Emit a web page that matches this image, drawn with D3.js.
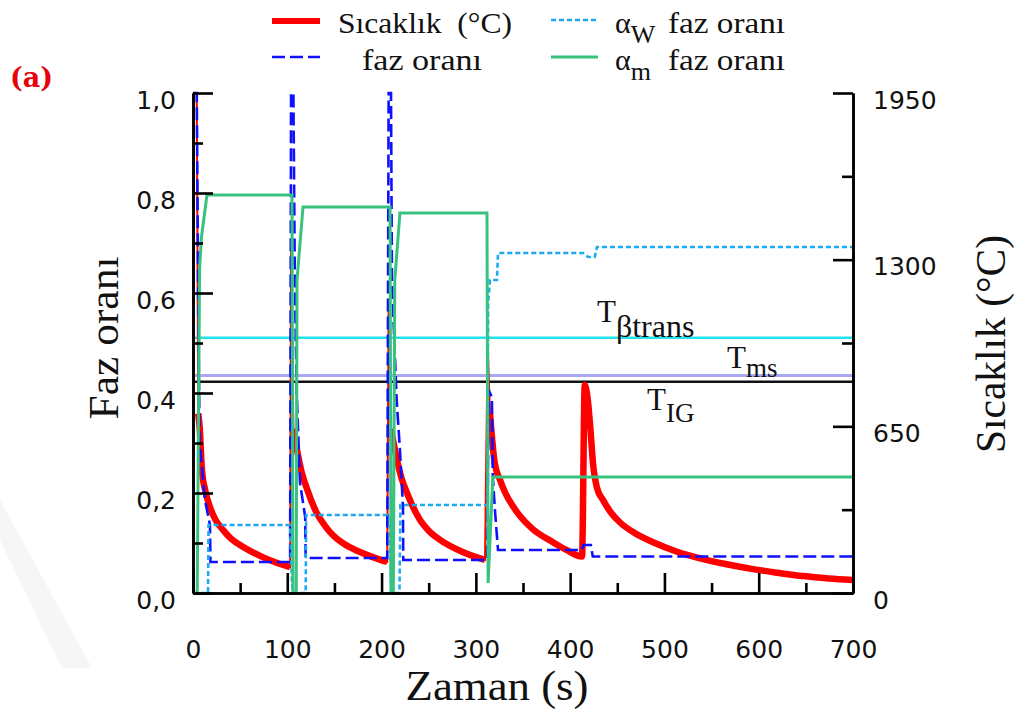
<!DOCTYPE html>
<html><head><meta charset="utf-8">
<script src="https://cdn.jsdelivr.net/npm/d3@7"></script>
<style>body{margin:0;background:#fff}</style>
</head><body>
<svg id="c" width="1020" height="720"></svg>
<script>
// ---------- data ----------
const redTime = [0, 1, 4, 5.5, 7, 9.5, 13, 18, 24, 31.8, 40, 49.8, 60, 74, 88, 103,
  104, 106.5, 110.3, 115, 121, 131.5, 140, 148.5, 160, 174, 190, 206,
  207.5, 210, 216.4, 221, 227, 240.8, 250, 262, 286, 298, 309.7,
  312.5, 315, 320, 325.6, 331, 339.4, 346.8, 360, 381.8, 396, 412.6,
  415.5, 418.5, 421.5, 424.2, 428.5, 434.8, 443, 452.9, 468, 488, 512, 541, 566, 594, 620, 647, 674, 700];
const redTemp = [25, 1950, 1950, 700, 650, 480, 400, 335, 285, 246, 213, 187, 165, 140, 119, 101,
  1338, 640, 558, 475, 405, 310, 262, 225, 192, 165, 141, 121,
  1143, 640, 519, 450, 390, 285, 243, 207, 160, 143, 129,
  967, 700, 507, 441, 392, 338, 300, 250, 198, 168, 142,
  811, 760, 640, 507, 410, 363, 315, 275, 235, 198, 163, 132, 112, 93, 79, 66, 57, 51];

const betaTime = [0, 4, 5.5, 7, 12.7, 18, 18.5, 103,
  104, 106.5, 108, 110, 113.5, 119, 119.5, 206,
  207.5, 210, 211, 216, 219.5, 222.7, 223, 312,
  313.5, 317, 318, 320, 323.5, 412.6,
  414, 422, 424, 700];
const betaVal = [1.0, 1.0, 0.6, 0.3, 0.186, 0.136, 0.062, 0.062,
  1.0, 1.0, 0.626, 0.4, 0.22, 0.152, 0.07, 0.07,
  1.0, 1.0, 0.626, 0.386, 0.286, 0.172, 0.066, 0.066,
  0.406, 0.392, 0.232, 0.172, 0.086, 0.086,
  0.096, 0.096, 0.073, 0.073];

const awTime = [0, 15.9, 16.5, 103, 105, 106, 119.5, 120, 208.5, 210, 211, 219, 220, 312.5,
  313, 315, 322.4, 323.5, 413.6, 419, 426, 428.5, 700];
const awVal = [0, 0, 0.136, 0.136, 0.02, 0, 0, 0.156, 0.156, 0.01, 0, 0, 0.176, 0.176,
  0.58, 0.626, 0.626, 0.68, 0.68, 0.672, 0.672, 0.692, 0.692];

const amTime = [0, 4.5, 7, 9, 14.8, 105, 106, 109.5, 110.3, 116.7, 209, 210, 212.5, 214, 219.5,
  311.8, 313, 318, 700];
const amVal = [0, 0, 0.65, 0.712, 0.796, 0.796, 0, 0, 0.626, 0.772, 0.772, 0, 0, 0.626, 0.76,
  0.76, 0.02, 0.232, 0.232];

const refTemps = [995, 848, 824];           // Tβtrans, Tms, TIG
const xTicks = [0, 100, 200, 300, 400, 500, 600, 700];
const xMinor = [50, 150, 250, 350, 450, 550, 650];
const yTicks = [0, 0.2, 0.4, 0.6, 0.8, 1.0];
const yMinor = [0.1, 0.3, 0.5, 0.7, 0.9];
const rTicks = [0, 650, 1300, 1950];
const rMinor = [325, 975, 1625];

// ---------- setup ----------
const svg = d3.select("#c");
const L = 193, R = 853, T = 93, B = 593;
const x = d3.scaleLinear([0, 700], [L, R]);
const yL = d3.scaleLinear([0, 1], [B, T]);
const yR = d3.scaleLinear([0, 1950], [B, T]);

// faint watermark
svg.append("polygon").attr("points", "0,500 0,540 62,668 92,668").attr("fill", "#f6f6f6");

const serif = "'Liberation Serif', 'Times New Roman', serif";
const sans = "'DejaVu Sans', Verdana, sans-serif";

// reference lines
const refStyle = [{c: "#22e2ea", w: 2.5}, {c: "#a9a9f3", w: 3}, {c: "#111", w: 2.5}];
refTemps.forEach((t, i) => {
  svg.append("line").attr("x1", L).attr("x2", R).attr("y1", yR(t)).attr("y2", yR(t))
    .attr("stroke", refStyle[i].c).attr("stroke-width", refStyle[i].w);
});

// ---------- series ----------
const red = redTime.map((t, i) => [t, redTemp[i]]);
const lineR = d3.line().x(d => x(d[0])).y(d => yR(d[1]));
const lineRs = d3.line().x(d => x(d[0])).y(d => yR(d[1])).curve(d3.curveMonotoneX);
const lineL = d3.line().x(d => x(d[0])).y(d => yL(d[1]));
// thin full path
svg.append("path").attr("d", lineR(red)).attr("fill", "none").attr("stroke", "#ff0000").attr("stroke-width", 2);
// thick runs (segments below 900 °C)
let runs = [], cur = [];
for (let i = 0; i < red.length - 1; i++) {
  const a = red[i], b = red[i + 1];
  if (Math.max(a[1], b[1]) <= 900) {
    if (cur.length === 0) cur.push(a);
    cur.push(b);
  } else { if (cur.length) runs.push(cur); cur = []; }
}
if (cur.length) runs.push(cur);
runs.forEach(r => svg.append("path").attr("d", lineRs(r)).attr("fill", "none")
  .attr("stroke", "#ff0000").attr("stroke-width", 6.5).attr("stroke-linejoin", "round"));

const beta = betaTime.map((t, i) => [t, betaVal[i]]);
svg.append("path").attr("d", lineL(beta)).attr("fill", "none").attr("stroke", "#1010ff")
  .attr("stroke-width", 2.6).attr("stroke-dasharray", "13,5");

const aw = awTime.map((t, i) => [t, awVal[i]]);
svg.append("path").attr("d", lineL(aw)).attr("fill", "none").attr("stroke", "#1eaaf2")
  .attr("stroke-width", 2.6).attr("stroke-dasharray", "5,3");

const am = amTime.map((t, i) => [t, amVal[i]]);
svg.append("path").attr("d", lineL(am)).attr("fill", "none").attr("stroke", "#38c27f")
  .attr("stroke-width", 3);

// ---------- axes ----------
function styleAxis(g) {
  g.select(".domain").attr("stroke", "#000").attr("stroke-width", 2.6);
  g.selectAll(".tick line").attr("stroke", "#000").attr("stroke-width", 2.6);
  g.selectAll("text").attr("font-family", sans).attr("font-size", 25).attr("fill", "#111");
}
const fmt = d => d3.format(".1f")(d).replace(".", ",");

svg.append("g").attr("transform", `translate(0,${B})`)
  .call(d3.axisBottom(x).tickValues(xTicks).tickSize(-20).tickSizeOuter(0).tickPadding(47).tickFormat(d3.format("d")))
  .call(styleAxis);
svg.append("g").attr("transform", `translate(0,${B})`)
  .call(d3.axisBottom(x).tickValues(xMinor).tickSize(-10).tickSizeOuter(0).tickFormat(""))
  .call(styleAxis);

svg.append("g").attr("transform", `translate(${L},0)`)
  .call(d3.axisLeft(yL).tickValues(yTicks).tickSize(-20).tickSizeOuter(0).tickPadding(17).tickFormat(fmt))
  .call(styleAxis).call(g => g.selectAll("text").attr("dy", "0.6em"));
svg.append("g").attr("transform", `translate(${L},0)`)
  .call(d3.axisLeft(yL).tickValues(yMinor).tickSize(-10).tickSizeOuter(0).tickFormat(""))
  .call(styleAxis);

svg.append("g").attr("transform", `translate(${R},0)`)
  .call(d3.axisRight(yR).tickValues(rTicks).tickSize(-20).tickSizeOuter(0).tickPadding(20).tickFormat(d3.format("d")))
  .call(styleAxis).call(g => g.selectAll("text").attr("dy", "0.6em"));
svg.append("g").attr("transform", `translate(${R},0)`)
  .call(d3.axisRight(yR).tickValues(rMinor).tickSize(-11).tickSizeOuter(0).tickFormat(""))
  .call(styleAxis);

// ---------- titles ----------
svg.append("text").attr("transform", "translate(118,338) rotate(-90)").attr("text-anchor", "middle")
  .attr("font-family", serif).attr("font-size", 42).attr("fill", "#111")
  .attr("textLength", 163).attr("lengthAdjust", "spacingAndGlyphs").text("Faz oranı");
svg.append("text").attr("transform", "translate(1005,344) rotate(-90)").attr("text-anchor", "middle")
  .attr("font-family", serif).attr("font-size", 42).attr("fill", "#111")
  .attr("textLength", 218).attr("lengthAdjust", "spacingAndGlyphs").text("Sıcaklık (°C)");
svg.append("text").attr("x", 497).attr("y", 700).attr("text-anchor", "middle")
  .attr("font-family", serif).attr("font-size", 42).attr("fill", "#111")
  .attr("textLength", 183).attr("lengthAdjust", "spacingAndGlyphs").text("Zaman (s)");

svg.append("text").attr("x", 10).attr("y", 87).attr("font-family", "'DejaVu Serif', serif")
  .attr("font-weight", "bold").attr("font-size", 27).attr("fill", "#e8000b").text("(a)");

// reference line labels
function subLabel(xp, yp, main, sub, subDy, subSize) {
  const t = svg.append("text").attr("x", xp).attr("y", yp).attr("font-family", serif)
    .attr("font-size", 31).attr("fill", "#111");
  t.append("tspan").text(main);
  t.append("tspan").attr("dy", subDy).attr("font-size", subSize).text(sub);
}
subLabel(597, 322, "T", "βtrans", 15, 32);
subLabel(727, 368, "T", "ms", 9, 27);
subLabel(647, 410, "T", "IG", 12, 27);

// ---------- legend ----------
const lg = svg.append("g");
lg.append("line").attr("x1", 272).attr("x2", 320).attr("y1", 21).attr("y2", 21)
  .attr("stroke", "#ff0000").attr("stroke-width", 6);
lg.append("line").attr("x1", 272).attr("x2", 320).attr("y1", 57).attr("y2", 57)
  .attr("stroke", "#1010ff").attr("stroke-width", 2.6).attr("stroke-dasharray", "13,5");
lg.append("line").attr("x1", 551).attr("x2", 596).attr("y1", 20).attr("y2", 20)
  .attr("stroke", "#1eaaf2").attr("stroke-width", 2.6).attr("stroke-dasharray", "5,3");
lg.append("line").attr("x1", 551).attr("x2", 598).attr("y1", 57).attr("y2", 57)
  .attr("stroke", "#38c27f").attr("stroke-width", 3);

function lgText(xp, yp, s, len) {
  return lg.append("text").attr("x", xp).attr("y", yp).attr("font-family", serif)
    .attr("font-size", 30).attr("fill", "#111")
    .attr("textLength", len).attr("lengthAdjust", "spacingAndGlyphs").text(s);
}
lgText(338, 33, "Sıcaklık\u00a0 (°C)", 174);
lgText(362, 70, "faz oranı", 120);
lgText(668, 33, "faz oranı", 117);
lgText(668, 70, "faz oranı", 117);
function greek(xp, yp, sub) {
  const t = lg.append("text").attr("x", xp).attr("y", yp).attr("font-family", serif)
    .attr("font-size", 30).attr("fill", "#111");
  t.append("tspan").text("α");
  t.append("tspan").attr("dy", 10).attr("font-size", 26).text(sub);
}
greek(615, 33, "W");
greek(615, 70, "m");
</script>
</body></html>
